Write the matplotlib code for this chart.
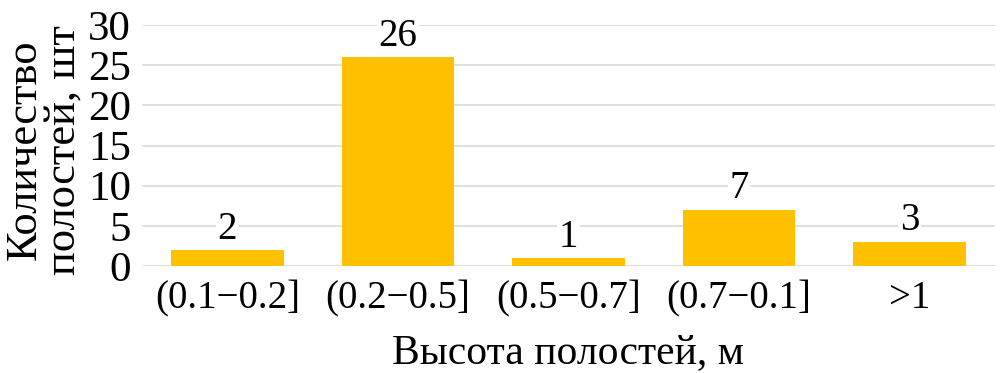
import matplotlib
matplotlib.use("Agg")
import matplotlib.pyplot as plt

categories = ["(0.1\u22120.2]", "(0.2\u22120.5]", "(0.5\u22120.7]", "(0.7\u22120.1]", ">1"]
counts = [2, 26, 1, 7, 3]
yticks = [0, 5, 10, 15, 20, 25, 30]

plt.rcParams['font.family'] = ['Liberation Serif', 'DejaVu Serif']

fig = plt.figure(figsize=(10.05, 3.73), dpi=100)
ax = fig.add_axes([142/1005, 1 - 266/373, (995-142)/1005, (266-25)/373])

x = list(range(len(categories)))
bars = ax.bar(x, counts, width=0.66, color="#FFC000", zorder=2)
for xi, v in zip(x, counts):
    ax.text(xi, v + 0.3, str(v), ha="center", va="bottom", fontsize=28, zorder=3,
            bbox=dict(facecolor="white", edgecolor="none", pad=1))

ax.set_xlim(-0.5, len(categories) - 0.5)
ax.set_ylim(0, 30)
ax.set_yticks(yticks)
ax.set_yticklabels([str(t) for t in yticks], fontsize=31)
ax.set_xticks(x)
ax.set_xticklabels(categories, fontsize=28)
ax.tick_params(axis="both", length=0)
ax.tick_params(axis="y", pad=8)
ax.tick_params(axis="x", pad=10)
ax.grid(axis="y", color="#d9d9d9", linewidth=1.2, zorder=0)
for s in ax.spines.values():
    s.set_visible(False)

ax.set_xlabel("Высота полостей, м", fontsize=30, labelpad=12)
fig.text(44/1005, 1 - 150/373, "Количество\nполостей, шт", rotation=90, ha="center", va="center",
         fontsize=32, linespacing=0.95)

fig.savefig("out.png", dpi=100, facecolor="white")
